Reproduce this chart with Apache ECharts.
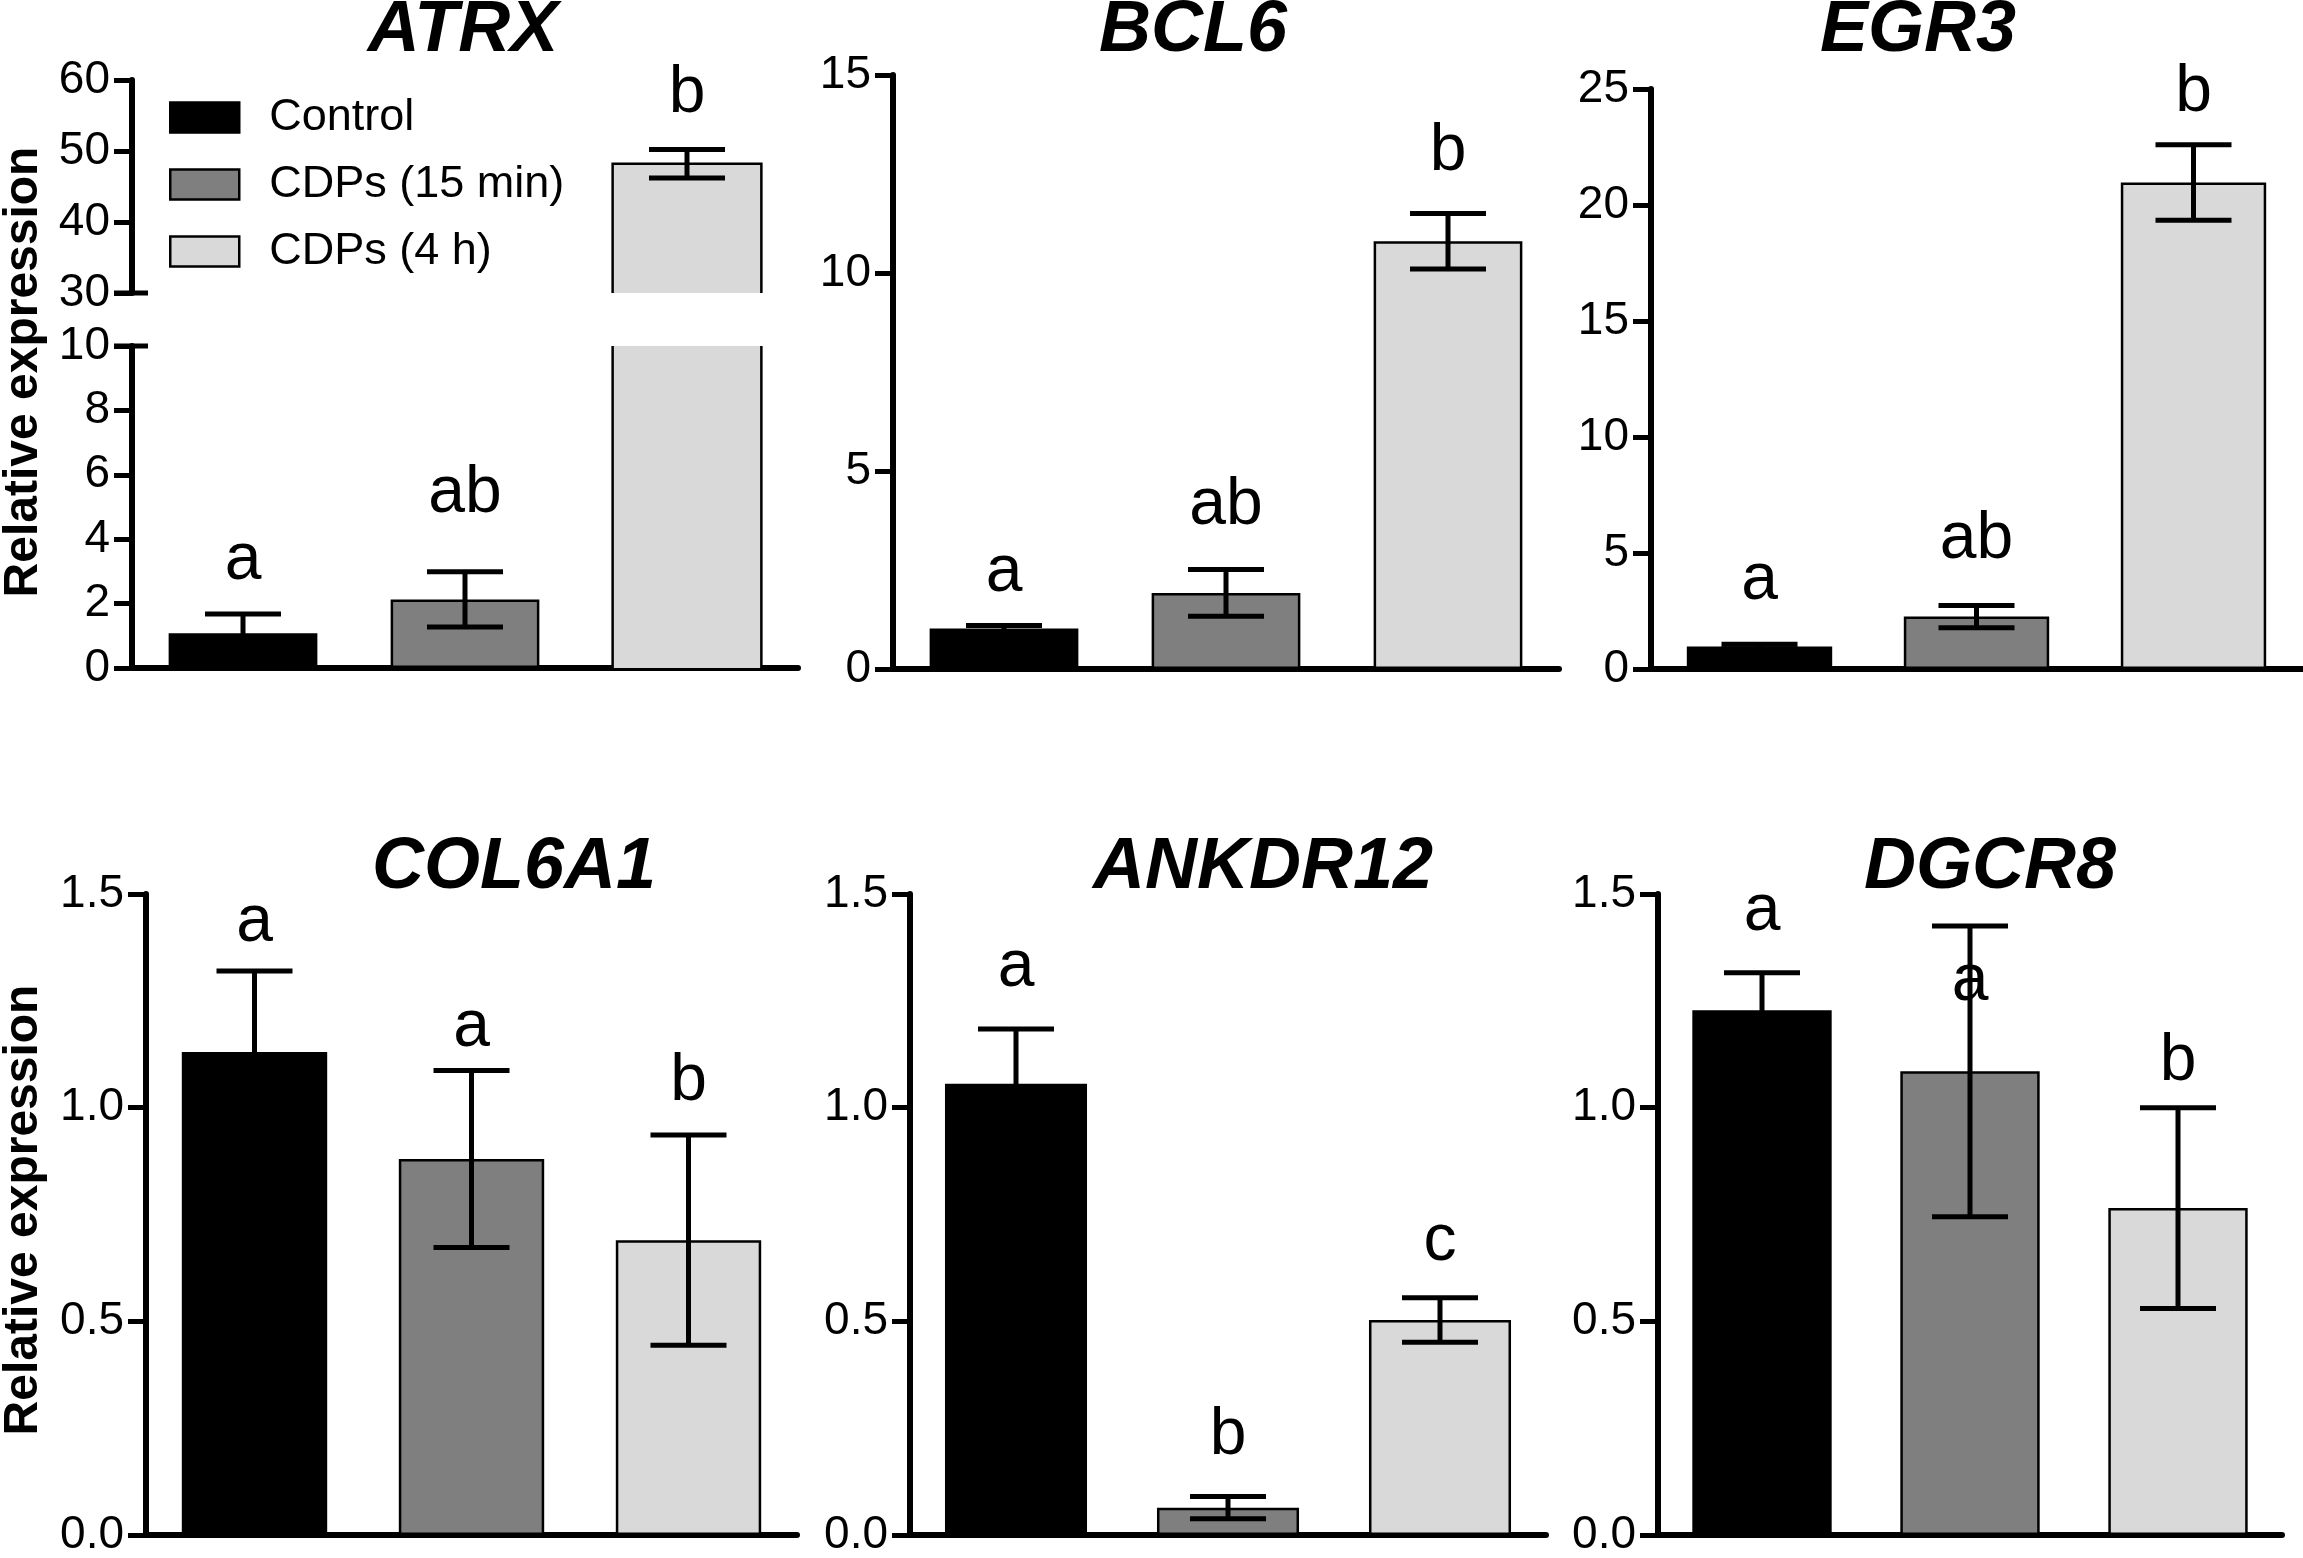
<!DOCTYPE html>
<html>
<head>
<meta charset="UTF-8">
<title>Relative expression</title>
<script src="https://cdn.jsdelivr.net/npm/echarts@6/dist/echarts.min.js"></script>
<style>html,body,#container{width:100%;height:100%;margin:0;padding:0;background:#fff;}</style>
</head>
<body>
<div id="container"></div>
<script>
// groups and genes
var groups = ['Control', 'CDPs (15 min)', 'CDPs (4 h)'];
var genes = ['ATRX', 'BCL6', 'EGR3', 'COL6A1', 'ANKDR12', 'DGCR8'];

// mean relative expression, one row per gene
var means = [
  [1.08, 2.13, 48.2],
  [1.02, 1.92, 10.8],
  [0.97, 2.26, 20.97],
  [1.13, 0.88, 0.69],
  [1.056, 0.064, 0.503],
  [1.228, 1.085, 0.765]
];
// error bar half-length
var errors = [
  [0.6, 0.86, 2.0],
  [0.08, 0.59, 0.7],
  [0.1, 0.48, 1.63],
  [0.19, 0.207, 0.246],
  [0.128, 0.026, 0.052],
  [0.088, 0.34, 0.235]
];
// significance letters and the value where each sits
var letters = [
  ['a', 'ab', 'b'],
  ['a', 'ab', 'b'],
  ['a', 'ab', 'b'],
  ['a', 'a', 'b'],
  ['a', 'b', 'c'],
  ['a', 'a', 'b']
];
var letterAt = [
  [2.56, 4.63, 54.5],
  [1.8, 3.5, 12.42],
  [2.74, 4.47, 23.74],
  [1.374, 1.129, 1.003],
  [1.269, 0.174, 0.628],
  [1.40, 1.235, 1.05]
];
// y axis ticks [min, max, interval]
var yTicks = [[0, 10, 2], [0, 15, 5], [0, 25, 5], [0, 1.5, 0.5], [0, 1.5, 0.5], [0, 1.5, 0.5]];
var atrxUpperTicks = [30, 60, 10];
var yDecimals = [0, 0, 0, 1, 1, 1];

var colors = ['#000000', '#7f7f7f', '#d9d9d9'];
var font = '"Liberation Sans", Arial, sans-serif';
var barFrac = 0.67;

// panel boxes (pixels)
var boxes = [
  {left: 132, top: 346, width: 666, height: 322},
  {left: 893, top: 75, width: 666, height: 594},
  {left: 1651, top: 89, width: 651, height: 580},
  {left: 146, top: 894, width: 651, height: 641},
  {left: 910, top: 894, width: 636, height: 641},
  {left: 1658, top: 894, width: 624, height: 641}
];
var atrxUpperBox = {left: 132, top: 80, width: 666, height: 213};
var titlePos = [[463, 31], [1193, 31], [1918, 31], [514, 868], [1263, 868], [1990, 868]];

var grids = [], xAxes = [], yAxes = [], series = [];

function renderError(params, api) {
  var i = api.value(0), m = api.value(1), e = api.value(2);
  var top = api.coord([i, m + e]);
  var bot = api.coord([i, m - e]);
  var half = 38;
  var st = {stroke: '#000', lineWidth: 5};
  return {type: 'group', children: [
    {type: 'line', shape: {x1: top[0], y1: top[1], x2: bot[0], y2: bot[1]}, style: st},
    {type: 'line', shape: {x1: top[0] - half, y1: top[1], x2: top[0] + half, y2: top[1]}, style: st},
    {type: 'line', shape: {x1: bot[0] - half, y1: bot[1], x2: bot[0] + half, y2: bot[1]}, style: st}
  ]};
}

// outline of a bar cut by the axis break: no edge where it leaves the segment
function renderOpenBar(params, api) {
  var cs = params.coordSys;
  var pt = api.coord([api.value(0), api.value(1)]);
  var half = api.size([1, 0])[0] * barFrac / 2;
  var yBase = cs.y + cs.height;
  var xl = pt[0] - half, xr = pt[0] + half;
  var st = {stroke: '#000', lineWidth: 2.5, fill: null};
  if (pt[1] >= cs.y) {
    return {type: 'polyline', shape: {points: [[xl, yBase], [xl, pt[1]], [xr, pt[1]], [xr, yBase]]}, style: st};
  }
  return {type: 'group', children: [
    {type: 'line', shape: {x1: xl, y1: yBase, x2: xl, y2: cs.y}, style: st},
    {type: 'line', shape: {x1: xr, y1: yBase, x2: xr, y2: cs.y}, style: st}
  ]};
}

function addPanel(p, box, ticks, showX, breakSide) {
  var g = grids.length;
  grids.push({left: box.left, top: box.top, width: box.width, height: box.height, containLabel: false});
  xAxes.push({
    type: 'category', gridIndex: g, data: groups, show: showX,
    axisLine: {lineStyle: {color: '#000', width: 6}},
    axisTick: {alignWithLabel: true, length: 19, lineStyle: {color: '#000', width: 5}},
    axisLabel: {show: false}, splitLine: {show: false}
  });
  yAxes.push({
    type: 'value', gridIndex: g, min: ticks[0], max: ticks[1], interval: ticks[2],
    axisLine: {show: true, lineStyle: {color: '#000', width: 6}},
    axisTick: {show: true, length: 18, lineStyle: {color: '#000', width: 5}},
    axisLabel: {
      color: '#000', fontSize: 46, fontFamily: font, margin: 22,
      formatter: function (v) { return v.toFixed(yDecimals[p]); }
    },
    splitLine: {show: false}
  });
  var openIdx = [];
  groups.forEach(function (name, k) {
    series.push({
      type: 'bar', name: name, xAxisIndex: g, yAxisIndex: g,
      data: groups.map(function (c, i) {
        if (i !== k) return '-';
        var v = means[p][k];
        if (v > ticks[1]) {
          openIdx.push(i);
          return {value: v, itemStyle: {borderWidth: 0}};
        }
        return v;
      }),
      barWidth: (barFrac * 100) + '%', barGap: '-100%', clip: true, silent: true,
      itemStyle: {color: colors[k], borderColor: '#000', borderWidth: 2.5}
    });
  });
  if (breakSide) {
    series.push({
      type: 'custom', xAxisIndex: g, yAxisIndex: g, silent: true, z: 4,
      renderItem: renderOpenBar,
      data: means[p].map(function (m, i) { return [i, m]; }).filter(function (d) {
        return d[1] > ticks[0];
      }).filter(function (d) { return breakSide === 'bottom' || openIdx.indexOf(d[0]) >= 0; })
    });
  }
  series.push({
    type: 'custom', xAxisIndex: g, yAxisIndex: g, clip: true, silent: true, z: 5,
    renderItem: renderError,
    data: means[p].map(function (m, i) { return [i, m, errors[p][i]]; })
  });
  var items = [];
  letterAt[p].forEach(function (v, i) {
    if (v >= ticks[0] && v <= ticks[1]) items.push({value: [i, v], text: letters[p][i]});
  });
  series.push({
    type: 'custom', xAxisIndex: g, yAxisIndex: g, silent: true, z: 6,
    renderItem: function (params, api) {
      var pt = api.coord([api.value(0), api.value(1)]);
      return {type: 'text', x: pt[0], y: pt[1] + 8, style: {
        text: items[params.dataIndex].text, fill: '#000',
        font: '66px ' + font, align: 'center', verticalAlign: 'bottom'
      }};
    },
    data: items.map(function (d) { return d.value; })
  });
  if (breakSide) {
    series.push({
      type: 'custom', xAxisIndex: g, yAxisIndex: g, silent: true, z: 6,
      renderItem: function (params) {
        var cs = params.coordSys;
        var y = breakSide === 'bottom' ? cs.y + cs.height : cs.y;
        return {type: 'line', shape: {x1: cs.x - 18, y1: y, x2: cs.x + 16, y2: y},
          style: {stroke: '#000', lineWidth: 5}};
      },
      data: [[0, 0]]
    });
  }
}

addPanel(0, atrxUpperBox, atrxUpperTicks, false, 'bottom');
addPanel(0, boxes[0], yTicks[0], true, 'top');
for (var p = 1; p < 6; p++) addPanel(p, boxes[p], yTicks[p], true, null);

// in the upper ATRX segment only the bar that reaches it keeps an outline
series.forEach(function (s) {
  if (s.type === 'bar' && s.xAxisIndex === 0) s.itemStyle = Object.assign({}, s.itemStyle, {borderWidth: 0});
});

var graphics = [];
genes.forEach(function (gname, i) {
  graphics.push({type: 'text', x: titlePos[i][0], y: titlePos[i][1], style: {
    text: gname, fill: '#000', font: 'italic bold 72px ' + font,
    align: 'center', verticalAlign: 'middle'
  }});
});
[[24, 372], [24, 1210]].forEach(function (pos) {
  graphics.push({type: 'text', x: pos[0], y: pos[1], rotation: Math.PI / 2, style: {
    text: 'Relative expression', fill: '#000', font: 'bold 48px ' + font,
    align: 'center', verticalAlign: 'middle'
  }});
});

var chart = echarts.init(document.getElementById('container'));
chart.setOption({
  backgroundColor: '#fff',
  animation: false,
  grid: grids,
  xAxis: xAxes,
  yAxis: yAxes,
  legend: {
    orient: 'vertical', left: 164, top: 90, itemWidth: 69, itemHeight: 30, itemGap: 22,
    icon: 'rect', selectedMode: false, data: groups,
    itemStyle: {borderColor: '#000', borderWidth: 2.5},
    textStyle: {color: '#000', fontSize: 45, fontFamily: font, padding: [0, 0, 0, 25]}
  },
  graphic: graphics,
  series: series
});
</script>
</body>
</html>
